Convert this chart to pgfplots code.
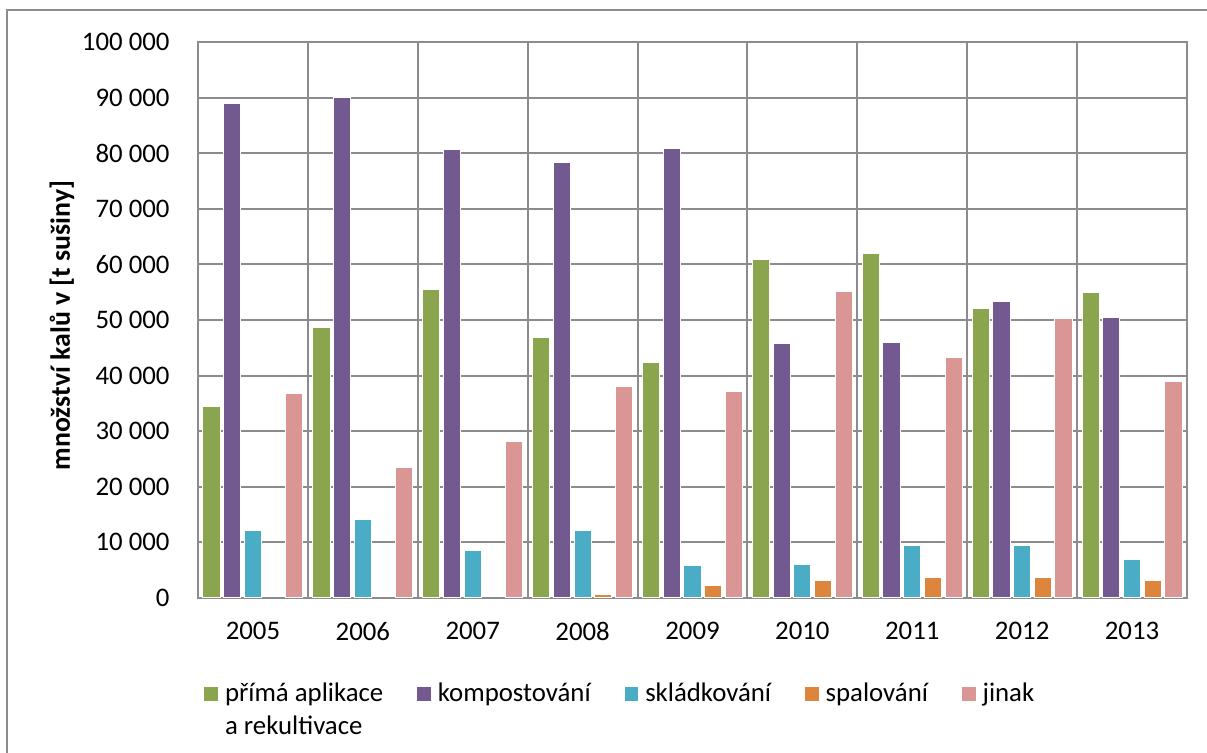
\documentclass[border=0pt]{standalone}
\usepackage{fontspec}
\setmainfont{Carlito}
\usepackage{pgfplots}
\pgfplotsset{compat=1.18}
\definecolor{cgreen}{HTML}{8AA54E}
\definecolor{cpurple}{HTML}{72598F}
\definecolor{ccyan}{HTML}{4BACC6}
\definecolor{corange}{HTML}{DD843D}
\definecolor{cpink}{HTML}{DA9694}
\definecolor{gridgray}{HTML}{8C8C8C}
\begin{document}
\begin{tikzpicture}[x=1pt,y=1pt]
\useasboundingbox (0,0) rectangle (603.5,376.5);
\draw[color=gridgray, line width=1pt] (3.5,0) -- (3.5,371.5) -- (603.5,371.5);
\begin{axis}[
  at={(99pt,77.5pt)}, anchor=south west,
  scale only axis, width=494.5pt, height=278pt,
  xmin=-0.5, xmax=8.5, ymin=0, ymax=100000,
  ybar=1.75pt, bar width=8.6pt,
  xtick={0,1,2,3,4,5,6,7,8},
  xticklabels={2005,2006,2007,2008,2009,2010,2011,2012,2013},
  minor xtick={0.5,1.5,2.5,3.5,4.5,5.5,6.5,7.5},
  xminorgrids=true,
  ytick={0,10000,20000,30000,40000,50000,60000,70000,80000,90000,100000},
  yticklabels={0,10 000,20 000,30 000,40 000,50 000,60 000,70 000,80 000,90 000,100 000},
  scaled y ticks=false,
  ymajorgrids=true,
  major tick length=0pt, minor tick length=0pt,
  axis line style={gridgray, line width=1pt},
  grid style={gridgray, line width=1pt},
  minor grid style={gridgray, line width=1pt},
  tick style={draw=none},
  font=\fontsize{13.4}{16.5}\selectfont,
  y tick label style={xshift=-10.7pt},
  x tick label style={yshift=-8.7pt},
  ylabel={\fontsize{13.9}{16.5}\selectfont\bfseries množství kalů v [t sušiny]},
  ylabel style={at={(axis description cs:-0.1375,0.49)}, anchor=center, rotate=0},
  legend columns=5,
  legend cell align=left,
  legend image code/.code={\draw[#1] (0pt,0pt) rectangle (7.3pt,7.3pt);},
  legend style={draw=none, fill=none, inner sep=0pt, column sep=0pt,
    at={(axis description cs:0.00506,-0.1365)}, anchor=north west,
    font=\fontsize{13.4}{16.5}\selectfont,
    cells={anchor=base west, inner sep=0pt},
    /tikz/every odd column/.append style={column sep=1pt},
    /tikz/every even column/.append style={column sep=14.5pt}},
]
\addplot[fill=cgreen, draw=white, line width=0.5pt] coordinates {
(0,34500) (1,48600) (2,55400) (3,46800) (4,42400) (5,60800) (6,61900) (7,52000) (8,55000)};
\addplot[fill=cpurple, draw=white, line width=0.5pt] coordinates {
(0,89000) (1,90100) (2,80600) (3,78400) (4,80900) (5,45700) (6,46000) (7,53400) (8,50400)};
\addplot[fill=ccyan, draw=white, line width=0.5pt] coordinates {
(0,12200) (1,14200) (2,8600) (3,12100) (4,5900) (5,6100) (6,9500) (7,9400) (8,7000)};
\addplot[fill=corange, draw=white, line width=0.5pt] coordinates {
(3,700) (4,2200) (5,3200) (6,3600) (7,3600) (8,3200)};
\addplot[fill=cpink, draw=white, line width=0.5pt] coordinates {
(0,36700) (1,23400) (2,28100) (3,38100) (4,37100) (5,55200) (6,43300) (7,50200) (8,39000)};
\addlegendentry{\begin{tabular}[t]{@{}l@{}}přímá aplikace\\a rekultivace\end{tabular}}
\addlegendentry{kompostování}
\addlegendentry{skládkování}
\addlegendentry{spalování}
\addlegendentry{jinak}
\end{axis}
\end{tikzpicture}
\end{document}
